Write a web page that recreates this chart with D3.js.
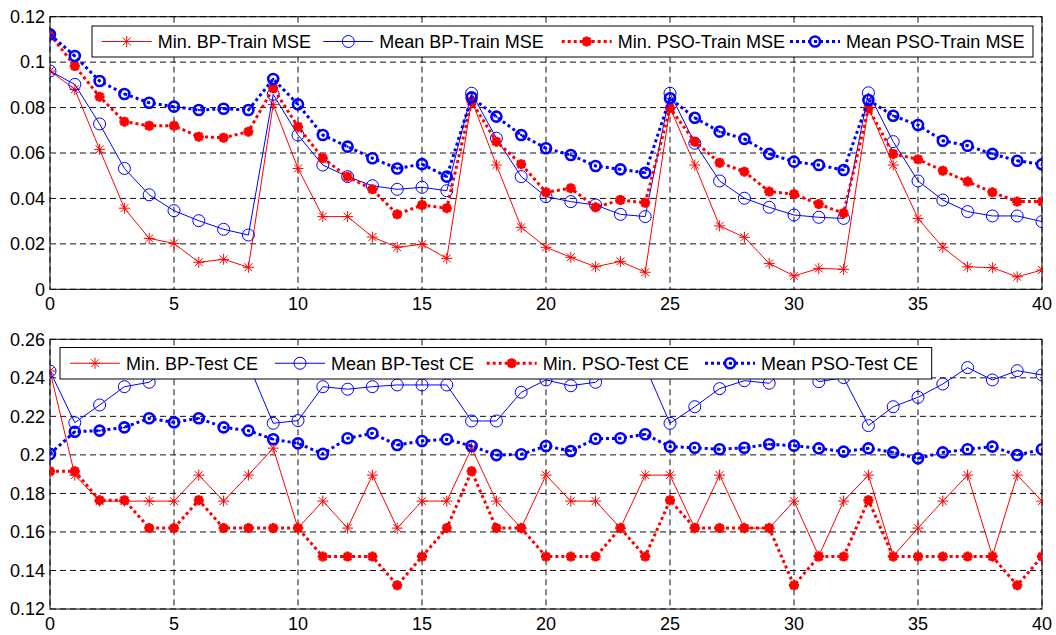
<html>
<script src="https://d3js.org/d3.v7.min.js"></script>
<style>
  body { margin: 0; background: #fff; }
  text { font-family: "Liberation Sans", Arial, sans-serif; fill: #000; }
</style>
<body>
<svg id="chart" width="1056" height="635"></svg>
<script>
// iterations on the x axis
const epochs = [0,1,2,3,4,5,6,7,8,9,10,11,12,13,14,15,16,17,18,19,20,21,22,23,24,25,26,27,28,29,30,31,32,33,34,35,36,37,38,39,40];
const xTicks = [0,5,10,15,20,25,30,35,40];

// top panel: training MSE
const minBPTrain = [0.0961,0.088,0.0616,0.0357,0.0224,0.0202,0.0119,0.0132,0.0097,0.0814,0.0532,0.032,0.032,
  0.023,0.0185,0.0198,0.0136,0.0833,0.0547,0.0273,0.0185,0.0141,0.0099,0.0123,0.0075,0.080,0.0547,
  0.0279,0.0229,0.0114,0.0059,0.0092,0.0088,0.080,0.0547,0.0312,0.0185,0.0099,0.0095,0.0055,0.0085];
const meanBPTrain = [0.0961,0.0902,0.0728,0.0532,0.0416,0.0346,0.0302,0.0264,0.0239,0.0858,0.0679,0.0547,0.0496,
  0.0456,0.044,0.0449,0.0434,0.0863,0.0665,0.0496,0.0408,0.0386,0.0371,0.033,0.032,0.0863,0.0643,
  0.0477,0.0401,0.0361,0.0327,0.0317,0.0312,0.0865,0.065,0.0477,0.0393,0.0342,0.0323,0.0323,0.0298];
const minPSOTrain = [0.1122,0.0983,0.0848,0.0738,0.072,0.072,0.0672,0.0667,0.0694,0.0885,0.0716,0.0577,0.0496,
  0.044,0.033,0.0371,0.0357,0.0826,0.065,0.0551,0.0427,0.0445,0.0361,0.0393,0.0381,0.0797,0.065,
  0.0557,0.0518,0.043,0.0419,0.0375,0.0335,0.0797,0.0596,0.0572,0.0522,0.0474,0.0427,0.0386,0.0386];
const meanPSOTrain = [0.1122,0.1027,0.0917,0.086,0.0821,0.0804,0.0789,0.0795,0.0789,0.0926,0.0814,0.0679,0.0628,
  0.0577,0.0532,0.0551,0.0496,0.0845,0.076,0.0679,0.0621,0.0591,0.0543,0.0528,0.0513,0.0841,0.0755,
  0.0694,0.0662,0.0596,0.0562,0.0547,0.0525,0.0833,0.0764,0.0723,0.0654,0.0632,0.0596,0.0566,0.055];
const trainTicks = [0,0.02,0.04,0.06,0.08,0.1,0.12];
const trainTickLabels = ["0","0.02","0.04","0.06","0.08","0.1","0.12"];
const trainLabels = ["Min. BP-Train MSE","Mean BP-Train MSE","Min. PSO-Train MSE","Mean PSO-Train MSE"];

// bottom panel: test CE
const minBPTest = [0.2435,0.1895,0.176,0.176,0.176,0.176,0.1895,0.176,0.1895,0.2035,0.162,0.176,0.162,
  0.1895,0.162,0.176,0.176,0.2035,0.176,0.162,0.1895,0.176,0.176,0.162,0.1895,0.1895,0.162,
  0.1895,0.162,0.162,0.176,0.1475,0.176,0.1895,0.1475,0.162,0.176,0.1895,0.1475,0.1895,0.176];
const meanBPTest = [0.2435,0.2167,0.2259,0.2354,0.2377,0.248,0.249,0.248,0.247,0.2164,0.2178,0.2354,0.2341,
  0.2354,0.2363,0.2363,0.2363,0.2176,0.2176,0.2325,0.2389,0.2359,0.2377,0.249,0.246,0.2164,0.225,
  0.2344,0.2385,0.2372,0.249,0.238,0.2401,0.2152,0.225,0.2299,0.2368,0.2453,0.2389,0.2437,0.2415];
const minPSOTest = [0.1915,0.1915,0.1765,0.1765,0.162,0.162,0.1765,0.162,0.162,0.162,0.162,0.1472,0.1472,
  0.1472,0.1323,0.1472,0.162,0.1915,0.162,0.162,0.1472,0.1472,0.1472,0.162,0.1472,0.1765,0.162,
  0.162,0.162,0.162,0.1323,0.1472,0.1472,0.1765,0.1472,0.1472,0.1472,0.1472,0.1472,0.1323,0.1472];
const meanPSOTest = [0.2005,0.212,0.2126,0.2143,0.219,0.2169,0.219,0.2143,0.2126,0.2081,0.206,0.2005,0.2086,
  0.2112,0.2051,0.2072,0.2081,0.2046,0.1999,0.2003,0.2046,0.202,0.2084,0.2086,0.2107,0.2043,0.2037,
  0.2029,0.2037,0.2055,0.2048,0.2034,0.2017,0.2034,0.2013,0.1982,0.2013,0.2029,0.2043,0.1999,0.2029];
const testTicks = [0.12,0.14,0.16,0.18,0.2,0.22,0.24,0.26];
const testTickLabels = ["0.12","0.14","0.16","0.18","0.2","0.22","0.24","0.26"];
const testLabels = ["Min. BP-Test CE","Mean BP-Test CE","Min. PSO-Test CE","Mean PSO-Test CE"];

const svg = d3.select("#chart");
const left = 50, right = 1042;
const x = d3.scaleLinear().domain([0,40]).range([left,right]);

// styles per series (same order in both panels)
const styles = [
  {color:"#ff0000", width:1, dash:null, marker:"star"},
  {color:"#0000ff", width:1, dash:null, marker:"circle"},
  {color:"#ff0000", width:3, dash:"3,3", marker:"fatstar"},
  {color:"#0000ff", width:3, dash:"3,3", marker:"fatcircle"}
];

function drawMarker(g, mx, my, st) {
  if (st.marker == "star" || st.marker == "fatstar") {
    const s = st.marker == "star" ? 5.5 : 5, d = s*0.72;
    g.append("path")
      .attr("d", "M"+mx+","+(my-s)+"V"+(my+s)+"M"+(mx-s)+","+my+"H"+(mx+s)+
        "M"+(mx-d)+","+(my-d)+"L"+(mx+d)+","+(my+d)+"M"+(mx-d)+","+(my+d)+"L"+(mx+d)+","+(my-d))
      .attr("stroke", st.color).attr("stroke-width", st.marker == "star" ? 1 : 3).attr("fill","none");
  } else if (st.marker == "circle") {
    g.append("circle").attr("cx",mx).attr("cy",my).attr("r",6)
      .attr("fill","none").attr("stroke",st.color).attr("stroke-width",1);
  } else {
    g.append("circle").attr("cx",mx).attr("cy",my).attr("r",5)
      .attr("fill","none").attr("stroke",st.color).attr("stroke-width",2.6);
    g.append("circle").attr("cx",mx).attr("cy",my).attr("r",1.2).attr("fill",st.color);
  }
}

function panel(id, top, bottom, domain, ticks, tickLabels, series, labels, lg) {
  const y = d3.scaleLinear().domain(domain).range([bottom, top]);
  const g = svg.append("g");

  g.append("clipPath").attr("id","clip"+id).append("rect")
    .attr("x",left).attr("y",top).attr("width",right-left).attr("height",bottom-top);

  // grid
  g.selectAll(".gx").data(xTicks).enter().append("line")
    .attr("x1",d=>x(d)).attr("x2",d=>x(d)).attr("y1",top).attr("y2",bottom)
    .attr("stroke","#111").attr("stroke-dasharray","6,4");
  g.selectAll(".gy").data(ticks).enter().append("line")
    .attr("x1",left).attr("x2",right).attr("y1",d=>y(d)).attr("y2",d=>y(d))
    .attr("stroke","#111").attr("stroke-dasharray","6,4");

  // box
  g.append("rect").attr("x",left).attr("y",top).attr("width",right-left).attr("height",bottom-top)
    .attr("fill","none").attr("stroke","#000").attr("stroke-width",1);

  // tick labels
  g.selectAll(".ty").data(ticks).enter().append("text")
    .attr("x",left-5).attr("y",d=>y(d)).attr("dy","0.35em").attr("text-anchor","end")
    .style("font-size","18px").text((d,i)=>tickLabels[i]);
  g.selectAll(".tx").data(xTicks).enter().append("text")
    .attr("x",d=>x(d)).attr("y",bottom+21).attr("text-anchor","middle")
    .style("font-size","18px").text(d=>d);

  // series
  const plot = g.append("g").attr("clip-path","url(#clip"+id+")");
  series.forEach((vals,k) => {
    const st = styles[k];
    const line = d3.line().x((d,i)=>x(epochs[i])).y(d=>y(d));
    plot.append("path").datum(vals).attr("d",line)
      .attr("fill","none").attr("stroke",st.color).attr("stroke-width",st.width)
      .attr("stroke-dasharray",st.dash);
    vals.forEach((v,i)=>drawMarker(plot, x(epochs[i]), y(v), st));
  });

  // legend
  const lgG = g.append("g");
  lgG.append("rect").attr("x",lg.x0).attr("y",lg.y0).attr("width",lg.x1-lg.x0).attr("height",lg.y1-lg.y0)
    .attr("fill","#fff").attr("stroke","#000").attr("stroke-width",1);
  const cy = (lg.y0+lg.y1)/2;
  labels.forEach((lab,k) => {
    const st = styles[k], sx = lg.items[k];
    lgG.append("line").attr("x1",sx).attr("x2",sx+50).attr("y1",cy).attr("y2",cy)
      .attr("stroke",st.color).attr("stroke-width",st.width).attr("stroke-dasharray",st.dash);
    drawMarker(lgG, sx+25, cy, st);
    lgG.append("text").attr("x",sx+56).attr("y",cy).attr("dy","0.35em")
      .style("font-size","18px").text(lab);
  });
}

panel("top", 16.7, 289.3, [0,0.12], trainTicks, trainTickLabels,
  [minBPTrain, meanBPTrain, minPSOTrain, meanPSOTrain], trainLabels,
  {x0:92, x1:1033, y0:26, y1:57, items:[101.7, 323.3, 561.7, 790]});

panel("bot", 339.3, 609, [0.12,0.26], testTicks, testTickLabels,
  [minBPTest, meanBPTest, minPSOTest, meanPSOTest], testLabels,
  {x0:60, x1:931.7, y0:347.5, y1:379, items:[70, 275, 486.7, 705]});
</script>
</body>
</html>
